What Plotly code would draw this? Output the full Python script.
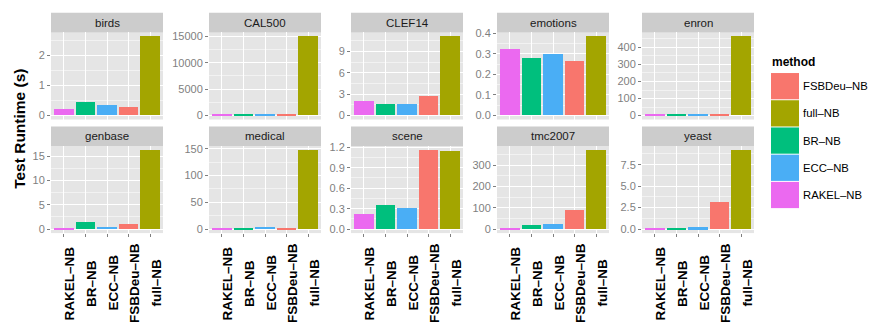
import plotly.graph_objects as go

W, H = 871, 331

methods = ["RAKEL–NB", "BR–NB", "ECC–NB", "FSBDeu–NB", "full–NB"]
colors = {"FSBDeu–NB": "#F8766D", "full–NB": "#A3A500", "BR–NB": "#00BF7D",
          "ECC–NB": "#4AAEF5", "RAKEL–NB": "#EB69F0"}
legend_order = ["FSBDeu–NB", "full–NB", "BR–NB", "ECC–NB", "RAKEL–NB"]

datasets = ["birds", "CAL500", "CLEF14", "emotions", "enron",
            "genbase", "medical", "scene", "tmc2007", "yeast"]

birds = [0.21, 0.43, 0.34, 0.28, 2.64]
cal500 = [110, 90, 100, 130, 14980]
clef14 = [1.96, 1.55, 1.55, 2.65, 11.1]
emotions = [0.324, 0.276, 0.295, 0.263, 0.385]
enron = [2.5, 2.5, 7.5, 4, 465]
genbase = [0.12, 1.45, 0.46, 1.06, 16.3]
medical = [0.9, 0.7, 4.2, 2.4, 148]
scene = [0.216, 0.358, 0.315, 1.162, 1.148]
tmc2007 = [6, 19.5, 24, 88, 372]
yeast = [0.15, 0.15, 0.22, 3.15, 9.22]
values = [birds, cal500, clef14, emotions, enron, genbase, medical, scene, tmc2007, yeast]

ticks_birds = [0, 1, 2]
ticks_cal500 = [0, 5000, 10000, 15000]
ticks_clef14 = [0, 3, 6, 9]
ticks_emotions = [0.0, 0.1, 0.2, 0.3, 0.4]
ticks_enron = [0, 100, 200, 300, 400]
ticks_genbase = [0, 5, 10, 15]
ticks_medical = [0, 50, 100, 150]
ticks_scene = [0.0, 0.3, 0.6, 0.9, 1.2]
ticks_tmc2007 = [0, 100, 200, 300]
ticks_yeast = [0.0, 2.5, 5.0, 7.5]
tick_sets = [ticks_birds, ticks_cal500, ticks_clef14, ticks_emotions, ticks_enron,
             ticks_genbase, ticks_medical, ticks_scene, ticks_tmc2007, ticks_yeast]
tick_decimals = [0, 0, 0, 1, 0, 0, 0, 1, 0, 1]

# layout in pixels
cols = [(51, 163), (209, 321), (351, 463), (497, 609), (642, 754)]
rows = [(28, 117), (144, 233)]
strips = [(8, 28), (124, 144)]

def px_x(p):
    return p / W

def px_y(p):
    return 1 - p / H

fig = go.Figure()
shapes = []
annotations = []
grey50 = "#7F7F7F"
FONT = "Liberation Sans, Arial, sans-serif"

for i, ds in enumerate(datasets):
    r, c = divmod(i, 5)
    n = i + 1
    xa = "x" if n == 1 else f"x{n}"
    ya = "y" if n == 1 else f"y{n}"
    vals = values[i]
    fig.add_trace(go.Bar(
        x=methods, y=vals, xaxis=xa, yaxis=ya, width=0.9,
        marker=dict(color=[colors[m] for m in methods], line=dict(width=0)),
        showlegend=False, hoverinfo="x+y"))
    vmax = max(vals)
    ticks = tick_sets[i]
    step = ticks[1] - ticks[0]
    dec = tick_decimals[i]
    x0, x1 = cols[c]
    y0, y1 = rows[r]
    xkey = "xaxis" if n == 1 else f"xaxis{n}"
    ykey = "yaxis" if n == 1 else f"yaxis{n}"
    fig.layout[xkey] = dict(
        domain=[px_x(x0), px_x(x1)], anchor=ya, type="category",
        categoryorder="array", categoryarray=methods, range=[-0.6, 4.6],
        showticklabels=False, showgrid=True, gridcolor="white", gridwidth=1,
        zeroline=False, showline=False,
        ticks="outside" if r == 1 else "", ticklen=3, tickcolor=grey50, tickwidth=1,
        fixedrange=True)
    fig.layout[ykey] = dict(
        domain=[px_y(y1), px_y(y0)], anchor=xa,
        range=[-0.05 * vmax, 1.05 * vmax],
        tickmode="array", tickvals=ticks,
        ticktext=[f"{t:.{dec}f}" for t in ticks],
        ticks="outside", ticklen=3, tickcolor=grey50, tickwidth=1,
        tickfont=dict(family=FONT, size=11, color=grey50),
        showgrid=True, gridcolor="white", gridwidth=1,
        minor=dict(tick0=ticks[0] + step / 2, dtick=step, showgrid=True,
                   gridcolor="#F2F2F2", gridwidth=0.6, ticks=""),
        zeroline=False, showline=False, fixedrange=True)
    # strip
    s0, s1 = strips[r]
    shapes.append(dict(type="rect", xref="paper", yref="paper",
                       x0=px_x(x0), x1=px_x(x1), y0=px_y(s1), y1=px_y(s0),
                       fillcolor="#CCCCCC", line=dict(width=0), layer="below"))
    annotations.append(dict(text=ds, xref="paper", yref="paper",
                            x=px_x((x0 + x1) / 2), y=px_y((s0 + s1) / 2),
                            xanchor="center", yanchor="middle", showarrow=False,
                            font=dict(family=FONT, size=11.5, color="#1A1A1A")))
    # bottom-row x labels, centered vertically like ggplot angle=90
    if r == 1:
        for m in methods:
            annotations.append(dict(text=f"<b>{m}</b>", xref=xa, yref="paper",
                                    x=m, y=px_y(284), textangle=-90,
                                    xanchor="left", yanchor="middle", xshift=-3,
                                    showarrow=False,
                                    font=dict(family=FONT, size=13.5, color="black")))

# y-axis title
annotations.append(dict(text="<b>Test Runtime (s)</b>", xref="paper", yref="paper",
                        x=px_x(20), y=px_y(126.5), textangle=-90,
                        xanchor="center", yanchor="middle", showarrow=False,
                        font=dict(family=FONT, size=15.5, color="black")))

# legend (drawn manually to match ggplot key size)
annotations.append(dict(text="<b>method</b>", xref="paper", yref="paper",
                        x=px_x(770), y=px_y(58), xanchor="left", yanchor="middle",
                        showarrow=False,
                        font=dict(family=FONT, size=12, color="black")))
key_top, key_h = 69, 27.8
for k, m in enumerate(legend_order):
    ty = key_top + k * key_h
    shapes.append(dict(type="rect", xref="paper", yref="paper",
                       x0=px_x(771), x1=px_x(799), y0=px_y(ty + key_h - 0.5), y1=px_y(ty + 0.5),
                       fillcolor=colors[m], line=dict(width=0)))
    annotations.append(dict(text=m, xref="paper", yref="paper",
                            x=px_x(801), y=px_y(ty + key_h / 2), xanchor="left",
                            yanchor="middle", showarrow=False,
                            font=dict(family=FONT, size=11.3, color="black")))

fig.update_layout(
    width=W, height=H, margin=dict(l=0, r=0, t=0, b=0),
    paper_bgcolor="white", plot_bgcolor="#E5E5E5",
    shapes=shapes, annotations=annotations, bargap=0,
    font=dict(family=FONT),
)

fig.write_html("out.html", config={"displayModeBar": False})
